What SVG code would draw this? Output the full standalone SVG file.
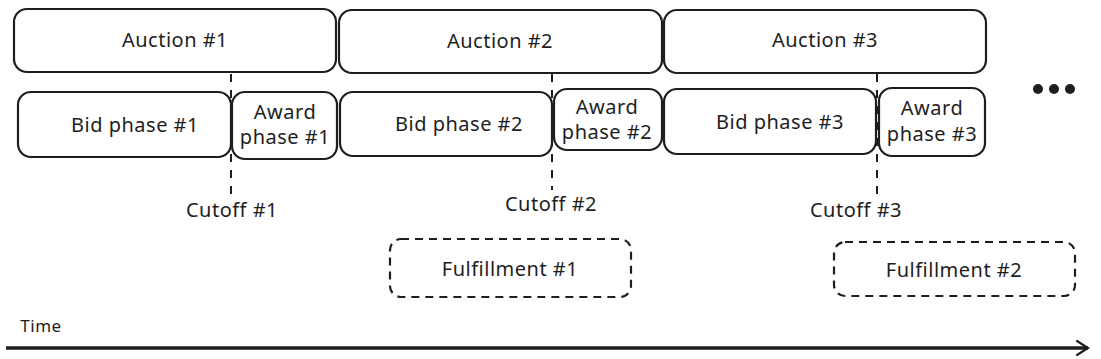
<svg xmlns="http://www.w3.org/2000/svg" width="1101" height="359" viewBox="0 0 1101 359">
<style>
.box{fill:#fff;stroke:#1e1e1e;stroke-width:2.2}
.dbox{fill:none;stroke:#1e1e1e;stroke-width:2.2;stroke-dasharray:8 6}
.cut{stroke:#1e1e1e;stroke-width:2;stroke-dasharray:8 8}
text{font-family:"Noto Sans","Liberation Sans",sans-serif;font-size:20px;letter-spacing:0.5px;fill:#1e1e1e;text-anchor:middle}
</style>
<defs>
<marker id="ah" markerWidth="14" markerHeight="16" refX="12" refY="8" orient="auto" markerUnits="userSpaceOnUse">
<path d="M1,1 L12,8 L1,15" fill="none" stroke="#1e1e1e" stroke-width="2.2" stroke-linecap="round"/>
</marker>
</defs>
<rect width="1101" height="359" fill="#fff"/>
<g id="connectors">
<line class="cut" x1="231" y1="74" x2="231" y2="196"/>
<line class="cut" x1="552" y1="74" x2="552" y2="190"/>
<line class="cut" x1="877" y1="74" x2="877" y2="196"/>
<line x1="6" y1="348" x2="1088" y2="348" stroke="#1e1e1e" stroke-width="3.5" marker-end="url(#ah)"/>
</g>
<g id="auction1"><rect class="box" x="14" y="9" width="322" height="63" rx="13"/><text x="175" y="47">Auction #1</text></g>
<g id="auction2"><rect class="box" x="339" y="10" width="323" height="63" rx="13"/><text x="500" y="48">Auction #2</text></g>
<g id="auction3"><rect class="box" x="664" y="10" width="322" height="63" rx="13"/><text x="825" y="47">Auction #3</text></g>
<g id="bid1"><rect class="box" x="18" y="92" width="213" height="65" rx="13"/><text x="135" y="132">Bid phase #1</text></g>
<g id="award1"><rect class="box" x="232" y="92" width="105" height="67" rx="13"/><text x="285" y="119">Award</text><text x="285" y="144">phase #1</text></g>
<g id="bid2"><rect class="box" x="340" y="92" width="212" height="64" rx="13"/><text x="459" y="131">Bid phase #2</text></g>
<g id="award2"><rect class="box" x="554" y="89" width="108" height="61" rx="13"/><text x="607" y="114">Award</text><text x="607" y="139">phase #2</text></g>
<g id="bid3"><rect class="box" x="664" y="89" width="212" height="65" rx="13"/><text x="780" y="129">Bid phase #3</text></g>
<g id="award3"><rect class="box" x="879" y="88" width="106" height="68" rx="13"/><text x="932" y="115">Award</text><text x="932" y="141">phase #3</text></g>
<g id="more"><circle cx="1038" cy="89" r="5" fill="#1e1e1e"/><circle cx="1054" cy="89" r="5" fill="#1e1e1e"/><circle cx="1070" cy="89" r="5" fill="#1e1e1e"/></g>
<g id="cutoff1"><text x="232" y="217">Cutoff #1</text></g>
<g id="cutoff2"><text x="551" y="211">Cutoff #2</text></g>
<g id="cutoff3"><text x="856" y="217">Cutoff #3</text></g>
<g id="fulfill1"><rect class="dbox" x="390" y="239" width="241" height="58" rx="11"/><text x="510" y="276">Fulfillment #1</text></g>
<g id="fulfill2"><rect class="dbox" x="834" y="242" width="241" height="54" rx="11"/><text x="954" y="277">Fulfillment #2</text></g>
<g id="time"><text x="41" y="332" style="font-size:17px">Time</text></g>
</svg>
